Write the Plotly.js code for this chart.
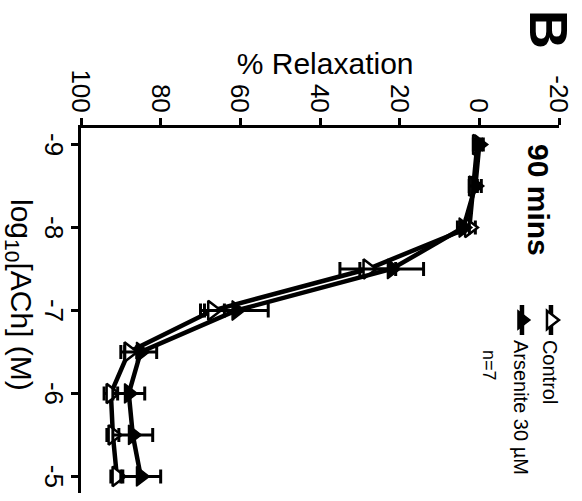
<!DOCTYPE html>
<html>
<head>
<meta charset="utf-8">
<script src="https://cdn.plot.ly/plotly-3.0.1.min.js"></script>
<style>
  html, body { margin:0; padding:0; background:#fff; overflow:hidden; width:582px; height:501px; }
  #wrap { position:absolute; left:0; top:0; width:501px; height:582px;
          transform-origin:0 0; transform:translate(582px,0) rotate(90deg); }
  #chart { width:501px; height:582px; }
</style>
</head>
<body>
<div id="wrap"><div id="chart"></div></div>
<script>
// log10[ACh] (M)
const logACh = [-9, -8.5, -8, -7.5, -7, -6.5, -6, -5.5, -5];
// % Relaxation, mean and SEM
const control     = [0.5, 1.5, 2.5, 28, 67, 88, 92.5, 92, 91];
const controlSem  = [1, 1, 1.5, 7, 3, 2, 1.7, 1.5, 1.5];
const arsenite    = [0, 1, 4, 22, 61, 85, 88, 87, 85];
const arseniteSem = [1, 1.5, 1.5, 8, 8, 4, 4, 5, 5];

const xTickVals = [-9, -8, -7, -6, -5];
const xTickText = ["-9", "-8", "-7", "-6", "-5"];
const yTickVals = [100, 80, 60, 40, 20, 0, -20];
const yTickText = ["100", "80", "60", "40", "20", "0", "-20"];

const FONT = "Liberation Sans, Arial, Helvetica, sans-serif";

const traces = [
  {
    x: logACh, y: control, name: "Control", type: "scatter", mode: "lines+markers",
    line: { color: "#000", width: 4.5 },
    marker: { symbol: "triangle-up", size: 17, color: "#fff", line: { color: "#000", width: 2.5 } },
    error_y: { type: "data", array: controlSem, visible: true, color: "#000", thickness: 3, width: 7 }
  },
  {
    x: logACh, y: arsenite, name: "Arsenite 30 µM", type: "scatter", mode: "lines+markers",
    line: { color: "#000", width: 4.5 },
    marker: { symbol: "triangle-up", size: 17, color: "#000", line: { color: "#000", width: 1.5 } },
    error_y: { type: "data", array: arseniteSem, visible: true, color: "#000", thickness: 3, width: 7 }
  }
];

const layout = {
  width: 501, height: 582,
  margin: { l: 128, r: 8, t: 23, b: 81 },
  paper_bgcolor: "#fff", plot_bgcolor: "#fff",
  font: { family: FONT, color: "#000" },
  showlegend: true,
  legend: {
    x: 0.471, xanchor: "left", y: 1.024, yanchor: "top",
    bgcolor: "rgba(0,0,0,0)", borderwidth: 0,
    font: { family: FONT, size: 20, color: "#000" },
    tracegroupgap: 0
  },
  xaxis: {
    range: [-9.2, -4.8], showgrid: false, zeroline: false,
    showline: true, linecolor: "#000", linewidth: 3,
    ticks: "outside", ticklen: 7, tickwidth: 3, tickcolor: "#000",
    tickvals: xTickVals, ticktext: xTickText, ticklabelstandoff: -5,
    tickfont: { family: FONT, size: 26, color: "#000" }
  },
  yaxis: {
    range: [100, -20], showgrid: false, zeroline: false,
    showline: true, linecolor: "#000", linewidth: 3,
    ticks: "outside", ticklen: 7, tickwidth: 3, tickcolor: "#000",
    tickvals: yTickVals, ticktext: yTickText,
    tickfont: { family: FONT, size: 26, color: "#000" }
  },
  annotations: [
    { text: "% Relaxation", xref: "paper", yref: "paper", x: -0.178, y: 0.51,
      textangle: -90, showarrow: false, xanchor: "center", yanchor: "middle",
      font: { family: FONT, size: 30, color: "#000" } },
    { text: "log<sub>10</sub>[ACh] (M)", xref: "paper", yref: "paper", x: 0.458, y: -0.128,
      showarrow: false, xanchor: "center", yanchor: "middle",
      font: { family: FONT, size: 30, color: "#000" } },
    { text: "<b>90 mins</b>", xref: "paper", yref: "paper", x: 0.197, y: 0.958,
      showarrow: false, xanchor: "center", yanchor: "middle",
      font: { family: FONT, size: 30, color: "#000" } },
    { text: "<b>B</b>", xref: "paper", yref: "paper", x: -0.27, y: 1.046,
      showarrow: false, xanchor: "center", yanchor: "top",
      font: { family: FONT, size: 54, color: "#000" } },
    { text: "n=7", xref: "paper", yref: "paper", x: 0.650, y: 0.854,
      showarrow: false, xanchor: "center", yanchor: "middle",
      font: { family: FONT, size: 18, color: "#000" } }
  ]
};

Plotly.newPlot("chart", traces, layout, { displayModeBar: false, staticPlot: true });
</script>
</body>
</html>
